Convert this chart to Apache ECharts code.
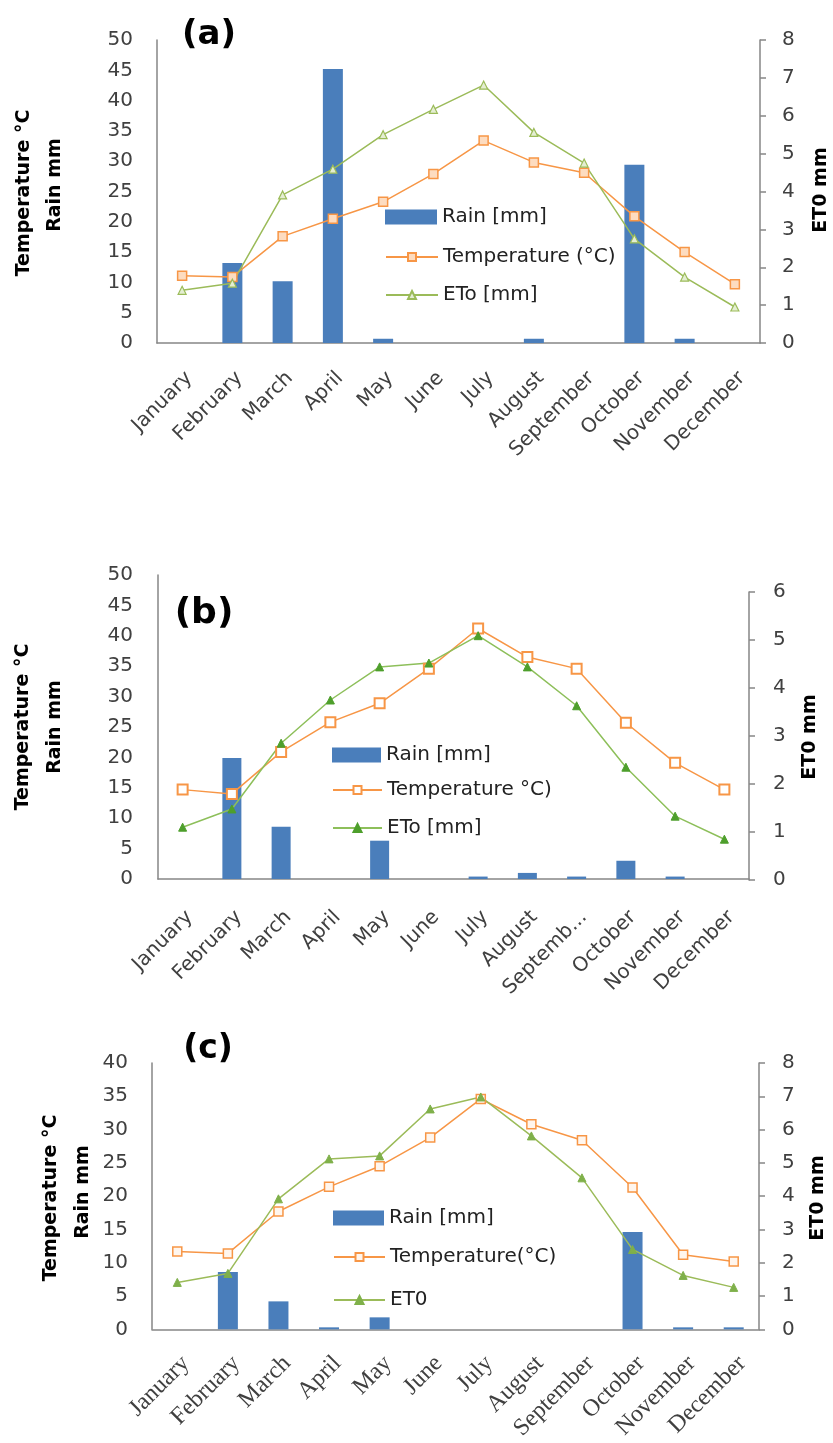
<!DOCTYPE html>
<html>
<head>
<meta charset="utf-8">
<script src="https://cdn.jsdelivr.net/npm/echarts@6/dist/echarts.min.js"></script>
<style>html,body{margin:0;padding:0;background:#fff}#c{width:833px;height:1443px}</style>
</head>
<body>
<div id="c"></div>
<script>
const months = ['January','February','March','April','May','June','July','August','September','October','November','December'];
const monthsB = ['January','February','March','April','May','June','July','August','Septemb...','October','November','December'];

const rainA = [0, 13.2, 10.2, 45.2, 0.7, 0, 0, 0.7, 0, 29.4, 0.7, 0];
const tempA = [11.1, 10.9, 17.6, 20.5, 23.3, 27.9, 33.4, 29.8, 28.1, 20.9, 15.0, 9.7];
const etoA  = [1.39, 1.58, 3.91, 4.59, 5.50, 6.17, 6.81, 5.56, 4.75, 2.75, 1.74, 0.95];

const rainB = [0, 19.9, 8.6, 0, 6.3, 0, 0.4, 1.0, 0.4, 3.0, 0.4, 0];
const tempB = [14.7, 14.0, 20.9, 25.8, 28.9, 34.6, 41.2, 36.5, 34.6, 25.7, 19.1, 14.7];
const etoB  = [1.10, 1.48, 2.85, 3.75, 4.44, 4.52, 5.09, 4.44, 3.63, 2.35, 1.33, 0.85];

const rainC = [0, 8.6, 4.2, 0.3, 1.8, 0, 0, 0, 0, 14.6, 0.3, 0.3];
const tempC = [11.7, 11.4, 17.7, 21.4, 24.5, 28.8, 34.6, 30.8, 28.4, 21.3, 11.2, 10.2];
const etoC  = [1.41, 1.68, 3.92, 5.12, 5.21, 6.62, 6.98, 5.81, 4.55, 2.40, 1.62, 1.26];

const legA = ['Rain [mm]', 'Temperature (°C)', 'ETo [mm]'];
const legB = ['Rain [mm]', 'Temperature °C)', 'ETo [mm]'];
const legC = ['Rain [mm]', 'Temperature(°C)', 'ET0'];

const SANS = 'DejaVu Sans';
const SERIF = 'Liberation Serif';
const AX = '#868686';
const TXT = '#404040';
const BLUE = '#4A7EBB';
const ORANGE = '#F79646';
const GREEN = '#9BBB59';

function xAx(gridIndex, data, font, fontSize, margin, show) {
  return {
    type: 'category', gridIndex, data, show: show !== false,
    boundaryGap: true,
    axisLine: {show: true, lineStyle: {color: AX, width: 1.5}},
    axisTick: {show: false},
    axisLabel: {interval: 0, rotate: 45, align: 'right', verticalAlign: 'top', margin,
      fontFamily: font, fontSize, color: TXT}
  };
}
function yAx(gridIndex, pos, max, interval, margin, ticks) {
  return {
    type: 'value', gridIndex, position: pos, min: 0, max, interval,
    splitLine: {show: false},
    axisLine: {show: true, lineStyle: {color: AX, width: 1.5}},
    axisTick: {show: ticks, length: 6, inside: false, lineStyle: {color: AX, width: 1.5}},
    axisLabel: {margin, fontFamily: SANS, fontSize: 20, color: TXT}
  };
}
const legText = {fontFamily: SANS, fontSize: 20, color: '#222'};
function rainLegend(left, top, w) {
  return {orient: 'vertical', left, top, itemWidth: w, itemHeight: 15, textStyle: legText,
    data: [{name: 'Rain [mm]', icon: 'rect', itemStyle: {color: BLUE}}]};
}

const option = {
  animation: false,
  backgroundColor: '#fff',
  grid: [
    {left: 157, top: 40, width: 603, height: 303},
    {left: 158, top: 575, width: 591, height: 304},
    {left: 158, top: 592, width: 591, height: 288},
    {left: 152, top: 1063, width: 607, height: 269}
  ],
  xAxis: [
    xAx(0, months, SANS, 20, 25),
    xAx(1, monthsB, SANS, 20, 28),
    xAx(2, months, SANS, 20, 28, false),
    xAx(3, months, SERIF, 24, 22)
  ],
  yAxis: [
    yAx(0, 'left', 50, 5, 24, false),
    yAx(0, 'right', 8, 1, 22, true),
    yAx(1, 'left', 50, 5, 25, false),
    yAx(2, 'right', 6, 1, 24, true),
    yAx(3, 'left', 40, 5, 24, false),
    yAx(3, 'right', 8, 1, 23, true)
  ],
  legend: [
    rainLegend(380, 202, 52),
    {orient: 'vertical', left: 380, top: 242, itemWidth: 52, itemHeight: 10, itemGap: 18, textStyle: legText,
     data: [
       {name: legA[1]},
       {name: legA[2], itemStyle: {color: '#e4eed2', borderColor: GREEN}}
     ]},
    rainLegend(327, 740, 49),
    {orient: 'vertical', left: 327, top: 775, itemWidth: 49, itemHeight: 10, itemGap: 18, textStyle: legText,
     data: [
       {name: legB[1]},
       {name: legB[2], itemStyle: {color: '#4e9f2c', borderColor: '#4e9f2c'}, lineStyle: {color: '#8dbf5a'}}
     ]},
    rainLegend(328, 1203, 51),
    {orient: 'vertical', left: 328, top: 1242, itemWidth: 51, itemHeight: 10, itemGap: 23, textStyle: legText,
     data: [
       {name: legC[1]},
       {name: legC[2]}
     ]}
  ],
  series: [
    {type: 'bar', name: legA[0], xAxisIndex: 0, yAxisIndex: 0, data: rainA, barWidth: 20,
     itemStyle: {color: BLUE}},
    {type: 'line', name: legA[1], xAxisIndex: 0, yAxisIndex: 0, data: tempA,
     symbol: 'rect', symbolSize: 9, lineStyle: {color: ORANGE, width: 1.5},
     itemStyle: {color: '#fddcc0', borderColor: ORANGE, borderWidth: 1.5}},
    {type: 'line', name: legA[2], xAxisIndex: 0, yAxisIndex: 1, data: etoA,
     symbol: 'triangle', symbolSize: 8, lineStyle: {color: GREEN, width: 1.5},
     itemStyle: {color: '#e4eed2', borderColor: GREEN, borderWidth: 1.2}},

    {type: 'bar', name: legB[0], xAxisIndex: 1, yAxisIndex: 2, data: rainB, barWidth: 19,
     itemStyle: {color: BLUE}},
    {type: 'line', name: legB[1], xAxisIndex: 1, yAxisIndex: 2, data: tempB,
     symbol: 'rect', symbolSize: 10, lineStyle: {color: ORANGE, width: 1.5},
     itemStyle: {color: '#ffffff', borderColor: ORANGE, borderWidth: 2}},
    {type: 'line', name: legB[2] , xAxisIndex: 2, yAxisIndex: 3, data: etoB,
     symbol: 'triangle', symbolSize: 8, lineStyle: {color: '#8dbf5a', width: 1.5},
     itemStyle: {color: '#4e9f2c', borderColor: '#4e9f2c', borderWidth: 1}},

    {type: 'bar', name: legC[0], xAxisIndex: 3, yAxisIndex: 4, data: rainC, barWidth: 20,
     itemStyle: {color: BLUE}},
    {type: 'line', name: legC[1], xAxisIndex: 3, yAxisIndex: 4, data: tempC,
     symbol: 'rect', symbolSize: 9, lineStyle: {color: ORANGE, width: 1.5},
     itemStyle: {color: '#fff6ee', borderColor: ORANGE, borderWidth: 1.5}},
    {type: 'line', name: legC[2], xAxisIndex: 3, yAxisIndex: 5, data: etoC,
     symbol: 'triangle', symbolSize: 8, lineStyle: {color: GREEN, width: 1.5},
     itemStyle: {color: '#7fb04a', borderColor: '#7fb04a', borderWidth: 1}}
  ],
  graphic: [
    {type: 'text', x: 209, y: 35, style: {text: '(a)', font: 'bold 34px "DejaVu Sans"', fill: '#000', textAlign: 'center', textVerticalAlign: 'middle'}},
    {type: 'text', x: 204, y: 614, style: {text: '(b)', font: 'bold 36px "DejaVu Sans"', fill: '#000', textAlign: 'center', textVerticalAlign: 'middle'}},
    {type: 'text', x: 208, y: 1049, style: {text: '(c)', font: 'bold 33px "DejaVu Sans"', fill: '#000', textAlign: 'center', textVerticalAlign: 'middle'}},

    {type: 'text', x: 24, y: 193, rotation: Math.PI / 2, style: {text: 'Temperature °C', font: 'bold 19px "DejaVu Sans"', fill: '#000', textAlign: 'center', textVerticalAlign: 'middle'}},
    {type: 'text', x: 55, y: 185, rotation: Math.PI / 2, style: {text: 'Rain mm', font: 'bold 19px "DejaVu Sans"', fill: '#000', textAlign: 'center', textVerticalAlign: 'middle'}},
    {type: 'text', x: 821, y: 190, rotation: Math.PI / 2, style: {text: 'ET0 mm', font: 'bold 19px "DejaVu Sans"', fill: '#000', textAlign: 'center', textVerticalAlign: 'middle'}},

    {type: 'text', x: 23, y: 727, rotation: Math.PI / 2, style: {text: 'Temperature °C', font: 'bold 19px "DejaVu Sans"', fill: '#000', textAlign: 'center', textVerticalAlign: 'middle'}},
    {type: 'text', x: 55, y: 727, rotation: Math.PI / 2, style: {text: 'Rain mm', font: 'bold 19px "DejaVu Sans"', fill: '#000', textAlign: 'center', textVerticalAlign: 'middle'}},
    {type: 'text', x: 810, y: 737, rotation: Math.PI / 2, style: {text: 'ET0 mm', font: 'bold 19px "DejaVu Sans"', fill: '#000', textAlign: 'center', textVerticalAlign: 'middle'}},

    {type: 'text', x: 51, y: 1198, rotation: Math.PI / 2, style: {text: 'Temperature °C', font: 'bold 19px "DejaVu Sans"', fill: '#000', textAlign: 'center', textVerticalAlign: 'middle'}},
    {type: 'text', x: 83, y: 1192, rotation: Math.PI / 2, style: {text: 'Rain mm', font: 'bold 19px "DejaVu Sans"', fill: '#000', textAlign: 'center', textVerticalAlign: 'middle'}},
    {type: 'text', x: 818, y: 1198, rotation: Math.PI / 2, style: {text: 'ET0 mm', font: 'bold 19px "DejaVu Sans"', fill: '#000', textAlign: 'center', textVerticalAlign: 'middle'}}
  ]
};

const chart = echarts.init(document.getElementById('c'), null, {renderer: 'canvas', width: 833, height: 1443});
chart.setOption(option);
</script>
</body>
</html>
